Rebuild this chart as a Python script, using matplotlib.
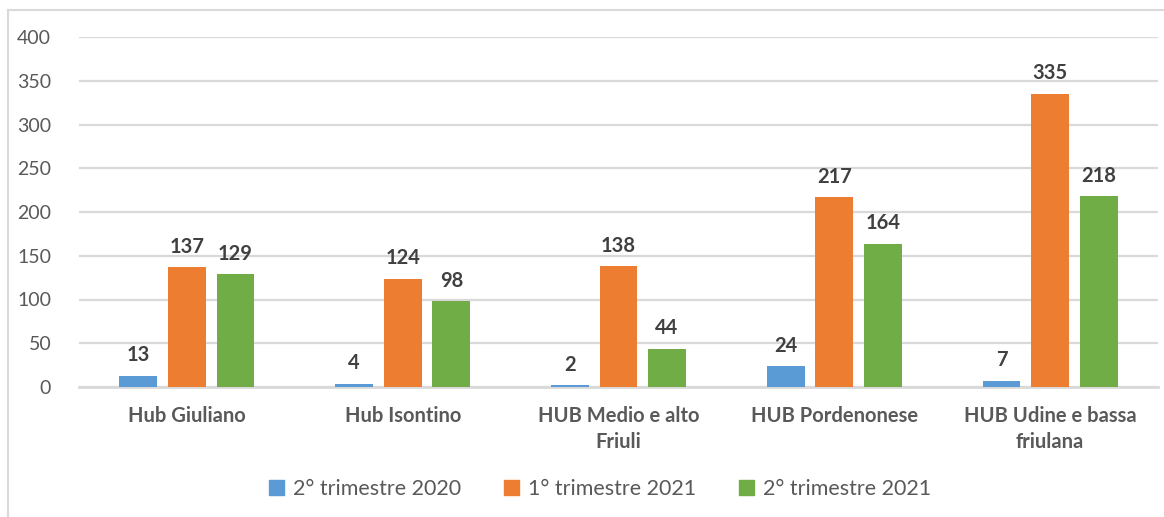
import numpy as np
import matplotlib.pyplot as plt
from matplotlib.lines import Line2D
from matplotlib.patches import Patch

plt.rcParams['font.family'] = ['Lato', 'DejaVu Sans']

# dati
categorie = ['Hub Giuliano', 'Hub Isontino', 'HUB Medio e alto\nFriuli',
             'HUB Pordenonese', 'HUB Udine e bassa\nfriulana']
serie = ['2° trimestre 2020', '1° trimestre 2021', '2° trimestre 2021']
t2_2020 = [13, 4, 2, 24, 7]
t1_2021 = [137, 124, 138, 217, 335]
t2_2021 = [129, 98, 44, 164, 218]
colori = ['#5b9bd5', '#ed7d31', '#70ad47']

W, H = 1164, 517
fig = plt.figure(figsize=(W / 100, H / 100), dpi=100)
ax = fig.add_axes([79 / W, 1 - 387 / H, 1079 / W, 350 / H])

x = np.arange(len(categorie))
larg = 0.175
passo = 0.225
for i, (vals, col) in enumerate(zip([t2_2020, t1_2021, t2_2021], colori)):
    pos = x + (i - 1) * passo
    ax.bar(pos, vals, width=larg, color=col, zorder=3)
    for p, v in zip(pos, vals):
        ax.text(p, v + 12, str(v), ha='center', va='bottom', fontsize=14.5,
                fontweight='bold', color='#404040')

ax.set_xlim(-0.5, len(categorie) - 0.5)
ax.set_ylim(0, 400)
ax.set_yticks(range(0, 401, 50))
ax.yaxis.grid(True, color='#d9d9d9', linewidth=1.6, zorder=0)
ax.set_xticks(x)
ax.set_xticklabels(categorie, fontsize=14.5, fontweight='bold', color='#595959',
                   linespacing=1.35)
ax.tick_params(axis='x', length=0, pad=14)
ax.tick_params(axis='y', length=0, pad=20, labelsize=14, labelcolor='#595959')
for s in ['top', 'right', 'left']:
    ax.spines[s].set_visible(False)
ax.spines['bottom'].set_color('#d9d9d9')
ax.spines['bottom'].set_linewidth(2)

handles = [Patch(color=c) for c in colori]
fig.legend(handles, serie, loc='center', bbox_to_anchor=(600 / W, 1 - 489 / H),
           ncol=3, frameon=False, fontsize=15.5, handlelength=0.7, handleheight=0.7,
           handletextpad=0.4, columnspacing=2.0, labelcolor='#595959')

# cornice
fig.add_artist(Line2D([8 / W, 8 / W], [0, 1 - 10 / H], transform=fig.transFigure,
                      color='#d9d9d9', linewidth=1.5))
fig.add_artist(Line2D([8 / W, 1], [1 - 10 / H, 1 - 10 / H], transform=fig.transFigure,
                      color='#d9d9d9', linewidth=1.5))

fig.savefig('out.png', dpi=100)
